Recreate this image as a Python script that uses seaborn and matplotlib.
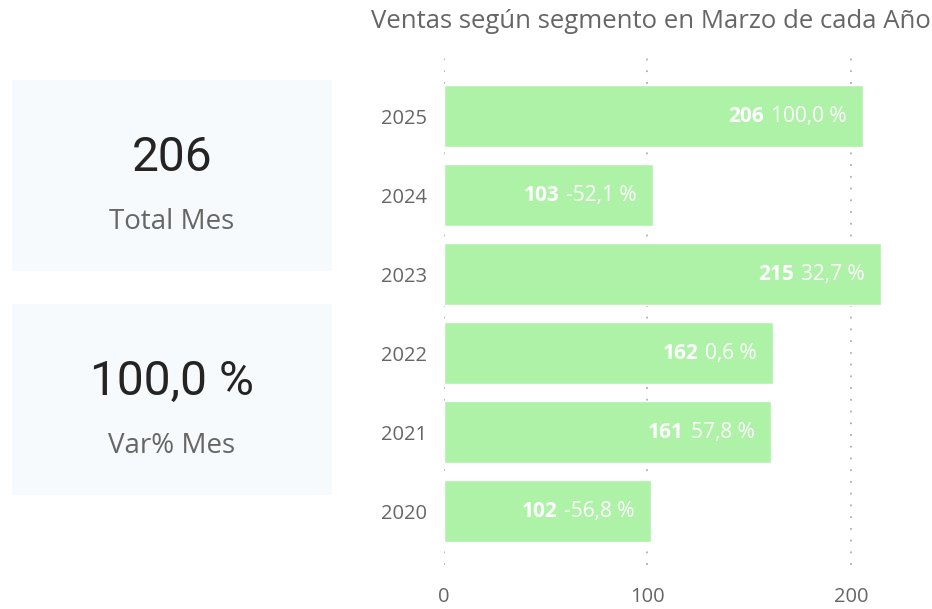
import pandas as pd
import seaborn as sns
import matplotlib.pyplot as plt
from matplotlib.patches import Rectangle

# Data
anios = ["2025", "2024", "2023", "2022", "2021", "2020"]
ventas = [206, 103, 215, 162, 161, 102]
var_pct = ["100,0 %", "-52,1 %", "32,7 %", "0,6 %", "57,8 %", "-56,8 %"]

card_total = "206"
card_total_label = "Total Mes"
card_var = "100,0 %"
card_var_label = "Var% Mes"

titulo = "Ventas según segmento en Marzo de cada Año"
x_ticks = [0, 100, 200]

W, H = 932, 609
BAR_COLOR = "#AEF2A8"
GRAY = "#666666"

sns.set_style("white")
plt.rcParams['font.family'] = ['Open Sans', 'DejaVu Sans']

fig = plt.figure(figsize=(W / 100, H / 100), dpi=100)


def fx(px):
    return px / W


def fy(py):
    return 1 - py / H


# cards on the left
for top, bottom, value, label in [(80, 271, card_total, card_total_label),
                                  (304, 495, card_var, card_var_label)]:
    fig.add_artist(Rectangle((fx(12), fy(bottom)), fx(332) - fx(12), fy(top) - fy(bottom),
                             transform=fig.transFigure, facecolor="#F7FAFD",
                             edgecolor="none", zorder=0))
    fig.text(fx(172), fy(top + 78), value, fontsize=34.5, color="#252423",
             family=['Roboto', 'DejaVu Sans'], ha="center", va="center")
    fig.text(fx(172), fy(top + 142), label, fontsize=20, color=GRAY,
             ha="center", va="center")

# bar chart
ax_left, ax_right = 444, 926
ax_top, ax_bottom = 52, 565
ax = fig.add_axes([fx(ax_left), fy(ax_bottom), fx(ax_right) - fx(ax_left), fy(ax_top) - fy(ax_bottom)])

df = pd.DataFrame({"anio": anios, "ventas": ventas, "var": var_pct})
sns.barplot(data=df, x="ventas", y="anio", order=anios, orient="h",
            color=BAR_COLOR, saturation=1, width=0.785, ax=ax, zorder=3)

ax.set_xlim(0, 237)
ax.set_ylim(5.68, -0.81)
ax.set_xticks(x_ticks)
ax.set_xlabel("")
ax.set_ylabel("")
for s in ax.spines.values():
    s.set_visible(False)
ax.tick_params(axis="both", length=0, labelsize=14.5, labelcolor=GRAY)
ax.tick_params(axis="y", pad=12)
ax.tick_params(axis="x", pad=16)
for xv in x_ticks:
    ax.axvline(xv, color="#B0B0B0", linestyle=(0, (1, 5.5)), linewidth=1.3, zorder=1)

for i, (v, p) in enumerate(zip(ventas, var_pct)):
    pct = ax.annotate(p, xy=(v, i), xytext=(-12, 0), textcoords="offset points",
                      ha="right", va="center", color="white", fontsize=15, zorder=5)
    ax.annotate(str(v), xy=(0, 0.5), xycoords=pct, xytext=(-5, 0),
                textcoords="offset points", ha="right", va="center",
                color="white", fontsize=15, fontweight="bold", zorder=5)

fig.text(fx(651), fy(22), titulo, fontsize=18.5, color=GRAY, ha="center", va="center")

fig.savefig("out.png", dpi=100)
